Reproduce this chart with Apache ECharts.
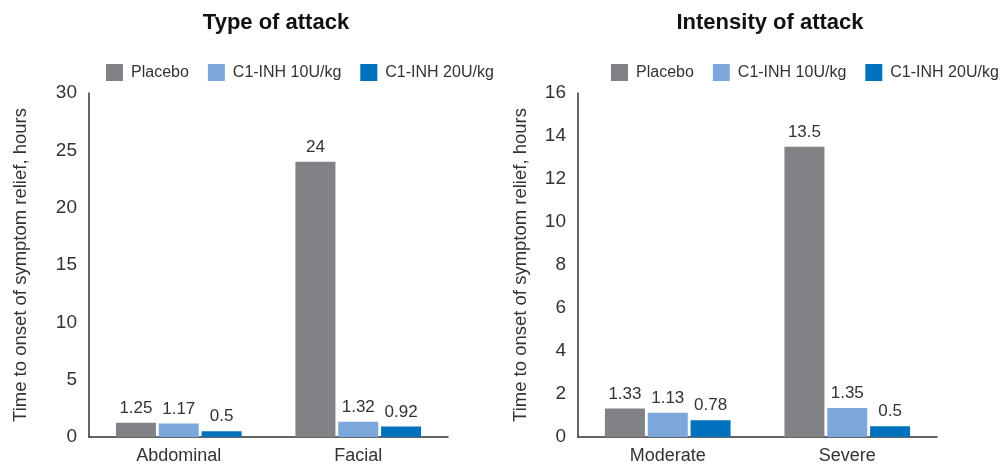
<!DOCTYPE html>
<html>
<head>
<meta charset="utf-8">
<script src="https://cdn.jsdelivr.net/npm/echarts@6/dist/echarts.min.js"></script>
<style>
html,body{margin:0;padding:0;background:#fff;}
#chart{width:1003px;height:467px;}
</style>
</head>
<body>
<div id="chart"></div>
<script>
// Time to onset of symptom relief (hours), by attack type and by intensity
const seriesNames = ['Placebo', 'C1-INH 10U/kg', 'C1-INH 20U/kg'];
const colors = ['#808285', '#7ba7da', '#0072bd'];

const typeCategories = ['Abdominal', 'Facial'];
const typePlacebo = [1.25, 24];
const type10 = [1.17, 1.32];
const type20 = [0.5, 0.92];

const intensityCategories = ['Moderate', 'Severe'];
const intensityPlacebo = [1.33, 13.5];
const intensity10 = [1.13, 1.35];
const intensity20 = [0.78, 0.5];

const typeTicks = { min: 0, max: 30, interval: 5 };
const intensityTicks = { min: 0, max: 16, interval: 2 };

const FONT = '"Liberation Sans", Arial, sans-serif';
const TEXT = '#333333';
const yName = 'Time to onset of symptom relief, hours';

function makeSeries(values, axisIndex) {
  return values.map((v, i) => ({
    name: seriesNames[i],
    type: 'bar',
    xAxisIndex: axisIndex,
    yAxisIndex: axisIndex,
    data: v,
    barGap: '7%',
    barCategoryGap: '30%',
    itemStyle: { color: colors[i] },
    label: {
      show: true, position: 'top', distance: 6,
      color: TEXT, fontSize: 17, fontFamily: FONT
    }
  }));
}

function xAx(cats, gridIndex) {
  return {
    type: 'category', gridIndex, data: cats,
    axisLine: { lineStyle: { color: '#333', width: 1.5 } },
    axisTick: { show: false },
    axisLabel: { color: TEXT, fontSize: 18, fontFamily: FONT, margin: 10 }
  };
}

function yAx(t, gridIndex, gap) {
  return {
    type: 'value', gridIndex, min: t.min, max: t.max, interval: t.interval,
    name: yName, nameLocation: 'middle', nameGap: gap,
    nameTextStyle: { color: TEXT, fontSize: 18.5, fontFamily: FONT },
    axisLine: { show: true, lineStyle: { color: '#333', width: 1.5 } },
    axisTick: { show: false },
    splitLine: { show: false },
    axisLabel: { color: TEXT, fontSize: 19, fontFamily: FONT, margin: 12 }
  };
}

const legendBase = {
  data: seriesNames, itemWidth: 17, itemHeight: 17, itemGap: 19,
  icon: 'rect', width: 420,
  textStyle: { color: TEXT, fontSize: 16, fontFamily: FONT, padding: [0, 0, 0, 3] }
};

const titleStyle = { fontSize: 22, fontWeight: 'bold', color: '#111', fontFamily: FONT };

const chart = echarts.init(document.getElementById('chart'));
chart.setOption({
  animation: false,
  backgroundColor: '#fff',
  title: [
    { text: 'Type of attack', left: 271, top: 7, textAlign: 'center', textStyle: titleStyle },
    { text: 'Intensity of attack', left: 765, top: 7, textAlign: 'center', textStyle: titleStyle }
  ],
  legend: [
    Object.assign({ left: 101, top: 59 }, legendBase),
    Object.assign({ left: 606, top: 59 }, legendBase)
  ],
  grid: [
    { left: 89, right: 555, top: 93, bottom: 30 },
    { left: 578, right: 66, top: 93, bottom: 30 }
  ],
  xAxis: [xAx(typeCategories, 0), xAx(intensityCategories, 1)],
  yAxis: [yAx(typeTicks, 0, 59), yAx(intensityTicks, 1, 48)],
  series: [
    ...makeSeries([typePlacebo, type10, type20], 0),
    ...makeSeries([intensityPlacebo, intensity10, intensity20], 1)
  ]
});
</script>
</body>
</html>
